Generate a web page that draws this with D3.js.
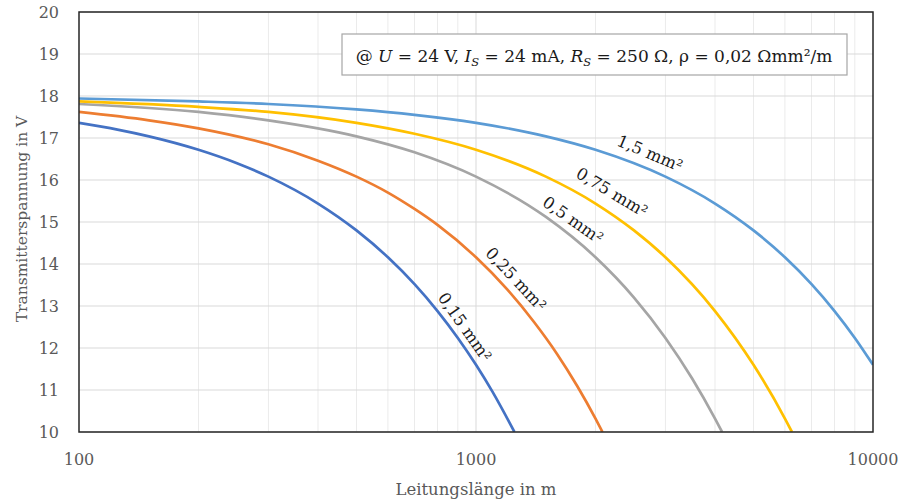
<!DOCTYPE html>
<html>
<head>
<meta charset="utf-8">
<script src="https://cdn.jsdelivr.net/npm/d3@7"></script>
<style>
    body { margin: 0; background: #fff; }
    svg text { font-family: "DejaVu Serif", serif; }
</style>
</head>
<body>
<div id="chart-ctn"></div>
<script>
// Data (cable length in m -> transmitter voltage in V)
const len015 = [100, 125, 150, 200, 250, 300, 400, 500, 600, 700, 800, 900, 1000, 1100, 1250];
const val015 = [17.36, 17.2, 17.04, 16.72, 16.4, 16.08, 15.44, 14.8, 14.16, 13.52, 12.88, 12.24, 11.6, 10.96, 10.0];

const len025 = [100, 150, 200, 300, 400, 500, 600, 700, 800, 1000, 1200, 1400, 1600, 1800, 2000, 2083];
const val025 = [17.62, 17.42, 17.23, 16.85, 16.46, 16.08, 15.7, 15.31, 14.93, 14.16, 13.39, 12.62, 11.86, 11.09, 10.32, 10.0];

const len05 = [100, 200, 300, 500, 700, 1000, 1500, 2000, 2500, 3000, 3500, 4000, 4167];
const val05 = [17.81, 17.62, 17.42, 17.04, 16.66, 16.08, 15.12, 14.16, 13.2, 12.24, 11.28, 10.32, 10.0];

const len075 = [100, 200, 300, 500, 700, 1000, 1500, 2000, 2500, 3000, 4000, 5000, 6000, 6250];
const val075 = [17.87, 17.74, 17.62, 17.36, 17.1, 16.72, 16.08, 15.44, 14.8, 14.16, 12.88, 11.6, 10.32, 10.0];

const len15 = [100, 200, 300, 500, 700, 1000, 1500, 2000, 3000, 4000, 5000, 6000, 7000, 8000, 9000, 10000];
const val15 = [17.94, 17.87, 17.81, 17.68, 17.55, 17.36, 17.04, 16.72, 16.08, 15.44, 14.8, 14.16, 13.52, 12.88, 12.24, 11.6];

const seriesNames = ["0,15 mm²", "0,25 mm²", "0,5 mm²", "0,75 mm²", "1,5 mm²"];
const seriesColors = ["#4472c4", "#ed7d31", "#a5a5a5", "#ffc000", "#5b9bd5"];

// Label anchor points (length, voltage) and rotation
const labelLen = [938, 1261, 1755, 2200, 2743];
const labelVal = [12.5, 13.64, 15.05, 15.71, 16.64];
const labelAngle = [55, 47, 35, 31, 23];

const yTicks = [10, 11, 12, 13, 14, 15, 16, 17, 18, 19, 20];
const xTicks = [100, 1000, 10000];

let width = 902;
let height = 502;
let margin = { left: 79, right: 29, top: 12, bottom: 70 };

let svg = d3.select("#chart-ctn")
    .append("svg")
    .attr("width", width)
    .attr("height", height);

let x = d3.scaleLog()
    .domain([100, 10000])
    .range([margin.left, width - margin.right]);

let y = d3.scaleLinear()
    .domain([10, 20])
    .range([height - margin.bottom, margin.top]);

// minor vertical grid
let minor = [];
[100, 1000].forEach((d) => {
    for (let i = 2; i <= 9; i++) minor.push(d * i);
});
svg.append("g")
    .selectAll("line")
    .data(minor)
    .join("line")
    .attr("x1", (d) => x(d)).attr("x2", (d) => x(d))
    .attr("y1", y(10)).attr("y2", y(20))
    .attr("stroke", "#ebebeb")
    .attr("stroke-width", 1);

// major grid
svg.append("g")
    .selectAll("line")
    .data(yTicks)
    .join("line")
    .attr("x1", x(100)).attr("x2", x(10000))
    .attr("y1", (d) => y(d)).attr("y2", (d) => y(d))
    .attr("stroke", "#d9d9d9")
    .attr("stroke-width", 1);

svg.append("line")
    .attr("x1", x(1000)).attr("x2", x(1000))
    .attr("y1", y(10)).attr("y2", y(20))
    .attr("stroke", "#d9d9d9")
    .attr("stroke-width", 1);

// tick labels
svg.append("g")
    .selectAll("text")
    .data(yTicks)
    .join("text")
    .attr("x", margin.left - 20)
    .attr("y", (d) => y(d))
    .attr("dy", "0.36em")
    .attr("text-anchor", "end")
    .style("font-size", "16px")
    .style("fill", "#595959")
    .text((d) => d);

svg.append("g")
    .selectAll("text")
    .data(xTicks)
    .join("text")
    .attr("x", (d) => x(d))
    .attr("y", y(10) + 33)
    .attr("text-anchor", "middle")
    .style("font-size", "16px")
    .style("fill", "#595959")
    .text((d) => d);

// axis titles
svg.append("text")
    .attr("x", (x(100) + x(10000)) / 2)
    .attr("y", 495)
    .attr("text-anchor", "middle")
    .style("font-size", "16.5px")
    .style("fill", "#595959")
    .text("Leitungslänge in m");

svg.append("text")
    .attr("transform", `translate(27, ${(y(10) + y(20)) / 2 - 3}) rotate(-90)`)
    .attr("text-anchor", "middle")
    .style("font-size", "15.5px")
    .style("fill", "#595959")
    .text("Transmitterspannung in V");

// curves
let lens = [len015, len025, len05, len075, len15];
let vals = [val015, val025, val05, val075, val15];
let line = d3.line()
    .x((d) => x(d[0]))
    .y((d) => y(d[1]))
    .curve(d3.curveMonotoneX);

svg.append("clipPath").attr("id", "plot-clip")
    .append("rect")
    .attr("x", x(100)).attr("y", y(20))
    .attr("width", x(10000) - x(100))
    .attr("height", y(10) - y(20));

lens.forEach((l, i) => {
    let pts = l.map((d, j) => [d, vals[i][j]]);
    svg.append("path")
        .datum(pts)
        .attr("d", line)
        .attr("fill", "none")
        .attr("stroke", seriesColors[i])
        .attr("stroke-width", 2.7)
        .attr("clip-path", "url(#plot-clip)");
});

// plot frame
svg.append("rect")
    .attr("x", x(100)).attr("y", y(20))
    .attr("width", x(10000) - x(100))
    .attr("height", y(10) - y(20))
    .attr("fill", "none")
    .attr("stroke", "#262626")
    .attr("stroke-width", 1.5);

// curve labels
seriesNames.forEach((name, i) => {
    let px = x(labelLen[i]);
    let py = y(labelVal[i]);
    svg.append("text")
        .attr("transform", `translate(${px}, ${py}) rotate(${labelAngle[i]})`)
        .attr("text-anchor", "middle")
        .attr("dy", "0.35em")
        .style("font-size", "16.5px")
        .style("fill", "#1a1a1a")
        .text(name);
});

// annotation box
let box = svg.append("g");
box.append("rect")
    .attr("x", 342).attr("y", 34)
    .attr("width", 505).attr("height", 41)
    .attr("fill", "#fff")
    .attr("stroke", "#a6a6a6")
    .attr("stroke-width", 1.2);

let note = box.append("text")
    .attr("x", 594)
    .attr("y", 62)
    .attr("text-anchor", "middle")
    .style("font-size", "17px")
    .style("fill", "#1a1a1a");
note.append("tspan").text("@ ");
note.append("tspan").style("font-style", "italic").text("U");
note.append("tspan").text(" = 24 V, ");
note.append("tspan").style("font-style", "italic").text("I");
note.append("tspan").style("font-style", "italic").style("font-size", "11.5px").attr("dy", 4).text("S");
note.append("tspan").attr("dy", -4).text(" = 24 mA, ");
note.append("tspan").style("font-style", "italic").text("R");
note.append("tspan").style("font-style", "italic").style("font-size", "11.5px").attr("dy", 4).text("S");
note.append("tspan").attr("dy", -4).text(" = 250 Ω, ρ = 0,02 Ωmm²/m");
</script>
</body>
</html>
